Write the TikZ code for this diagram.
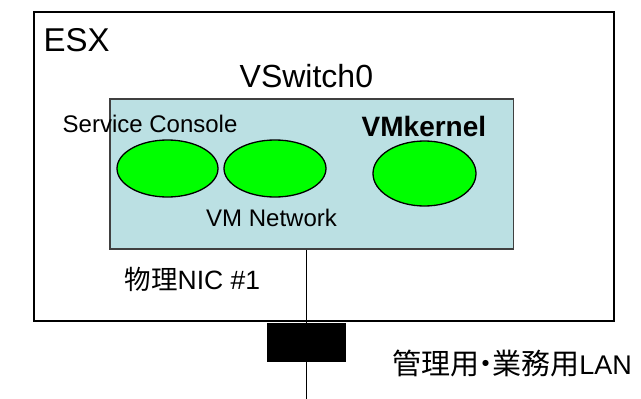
\documentclass[tikz,border=0pt]{standalone}
\usepackage{fontspec}
\setmainfont{Liberation Sans}
\newfontfamily\jpfont{Noto Sans CJK JP}
\usetikzlibrary{shapes.geometric, positioning, calc}

\definecolor{switchblue}{RGB}{187,224,227}
\definecolor{pggreen}{RGB}{0,255,0}

\begin{document}
\begin{tikzpicture}[x=1pt, y=-1pt,
        portgroup/.style={draw=black, line width=1.3pt, fill=pggreen, ellipse, inner sep=0pt},
        lbl/.style={inner sep=0pt, anchor=base west}]
        \useasboundingbox (0, 0) rectangle (641, 399);

        % ESX host
        \draw[line width=2pt] (34, 12) rectangle (614, 321);
        \node[lbl, font=\fontsize{33}{38}\selectfont] (esx) at (43.5, 51.7) {ESX};

        % VSwitch0
        \node[draw=black!75, line width=1.3pt, fill=switchblue, minimum width=403.5pt, minimum height=150pt] (vswitch) at (311.75, 174) {};
        \node[lbl, font=\fontsize{32}{36}\selectfont] (vswname) at (239.5, 87.3) {VSwitch0};

        % Port groups
        \node[portgroup, minimum width=101pt, minimum height=57pt] (sc) at (167.5, 168.5) {};
        \node[portgroup, minimum width=102pt, minimum height=57pt] (vmnet) at (275, 168.5) {};
        \node[portgroup, minimum width=103pt, minimum height=65pt] (vmk) at (424.5, 173.5) {};
        \node[lbl, font=\fontsize{24}{28}\selectfont] (scname) at (62.5, 132) {Service Console};
        \node[lbl, font=\fontsize{24}{28}\selectfont] (vmnetname) at (206, 226.7) {VM Network};
        \node[lbl, font=\fontsize{28}{32}\selectfont\bfseries] (vmkname) at (361.5, 136.7) {VMkernel};

        % Uplink
        \coordinate (lan) at (306.3, 399);
        \node[fill=black, minimum width=79pt, minimum height=39pt, inner sep=0pt] (nic) at (306.3, 342) {};
        \draw[line width=1pt] (nic.north |- vswitch.south) -- (lan);
        \node[lbl, font=\fontsize{26.5}{30}\selectfont] (nicname) at (124.5, 289) {{\jpfont 物理}NIC \#1};
        \node[lbl, font=\fontsize{27}{30}\selectfont] (lanname) at (392, 374.5) {{\fontsize{29}{32}\selectfont\jpfont 管理用\makebox[0.45em]{・}業務用}LAN};
\end{tikzpicture}
\end{document}
